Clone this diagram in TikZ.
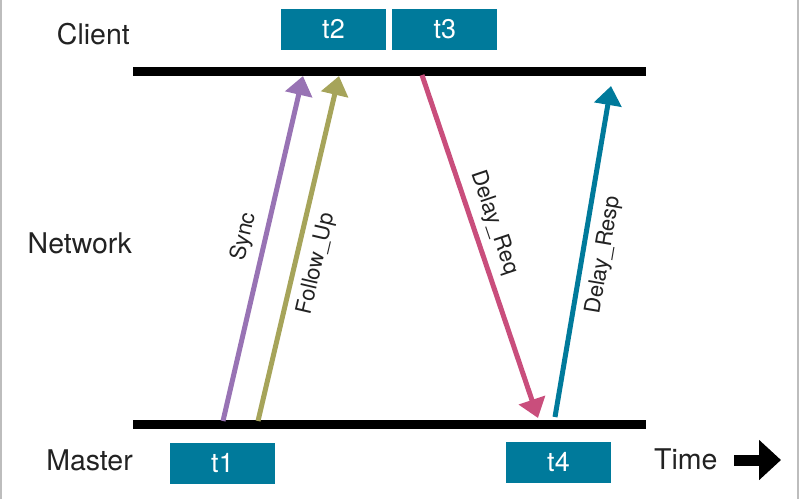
\documentclass[tikz,border=0pt]{standalone}
\usepackage{fontspec}
\setmainfont{TeX Gyre Heros}
\usetikzlibrary{positioning, arrows.meta}
\definecolor{stampblue}{HTML}{007A9B}
\definecolor{syncpurple}{HTML}{9873B4}
\definecolor{followolive}{HTML}{A6A45A}
\definecolor{reqpink}{HTML}{C94E7C}
\definecolor{inkgray}{HTML}{222222}
\definecolor{framegray}{HTML}{BDBDBD}

\begin{document}
\begin{tikzpicture}[x=1pt, y=-1pt,
    stamp/.style={fill=stampblue, text=white, minimum width=105pt, minimum height=41pt, inner sep=0pt, font=\fontsize{27}{30}\selectfont},
    lane/.style={text=inkgray, inner sep=0pt, font=\fontsize{28.5}{32}\selectfont},
    timeline/.style={line width=9pt},
    msg/.style={line width=5pt, -{Triangle[length=19pt, width=27pt]}},
    msglabel/.style={sloped, inner sep=8pt, text=inkgray, font=\fontsize{22}{25}\selectfont}]

        \useasboundingbox (0,0) rectangle (800,499);

        % Frame
        \draw[framegray, line width=1.5pt] (1,0) -- (1,499);
        \draw[framegray, line width=1.5pt] (798,0) -- (798,499);

        % Lane names
        \node[lane, anchor=base east] (client) at (130,44) {Client};
        \node[lane, anchor=base east] (network) at (132,253) {Network};
        \node[lane, anchor=base east] (master) at (133,470) {Master};
        \node[lane, anchor=base west] (time) at (654,469) {Time};

        % Time arrow
        \coordinate (timetail) at (734,460);
        \coordinate (timetip) at (781,460);
        \draw[line width=11pt, -{Triangle[length=22pt, width=39pt]}] (timetail) -- (timetip);

        % Timelines
        \coordinate (clientL) at (133,71);
        \coordinate (clientR) at (646,71);
        \draw[timeline] (clientL) -- (clientR);
        \coordinate (masterL) at (133,424);
        \coordinate (masterR) at (646,424);
        \draw[timeline] (masterL) -- (masterR);

        % Timestamps
        \node[stamp] (t2) at (333.5,29) {t2};
        \node[stamp, right=6pt of t2] (t3) {t3};
        \node[stamp] (t1) at (222.5,463) {t1};
        \node[stamp] (t4) at (558.5,462.5) {t4};

        % Sync
        \coordinate (syncA) at (223,421);
        \coordinate (syncB) at (303,76);
        \draw[msg, syncpurple] (syncA) -- node[msglabel, above, pos=0.52] (synclabel) {Sync} (syncB);

        % Follow_Up
        \coordinate (followA) at (258,421);
        \coordinate (followB) at (339,76);
        \draw[msg, followolive] (followA) -- node[msglabel, below, pos=0.47] (followlabel) {Follow\_Up} (followB);

        % Delay_Req
        \coordinate (reqA) at (422,75);
        \coordinate (reqB) at (538,418);
        \draw[msg, reqpink] (reqA) -- node[msglabel, above, pos=0.45] (reqlabel) {Delay\_Req} (reqB);

        % Delay_Resp
        \coordinate (respA) at (555,417);
        \coordinate (respB) at (611,86);
        \draw[msg, stampblue] (respA) -- node[msglabel, below, pos=0.5] (resplabel) {Delay\_Resp} (respB);

\end{tikzpicture}
\end{document}
